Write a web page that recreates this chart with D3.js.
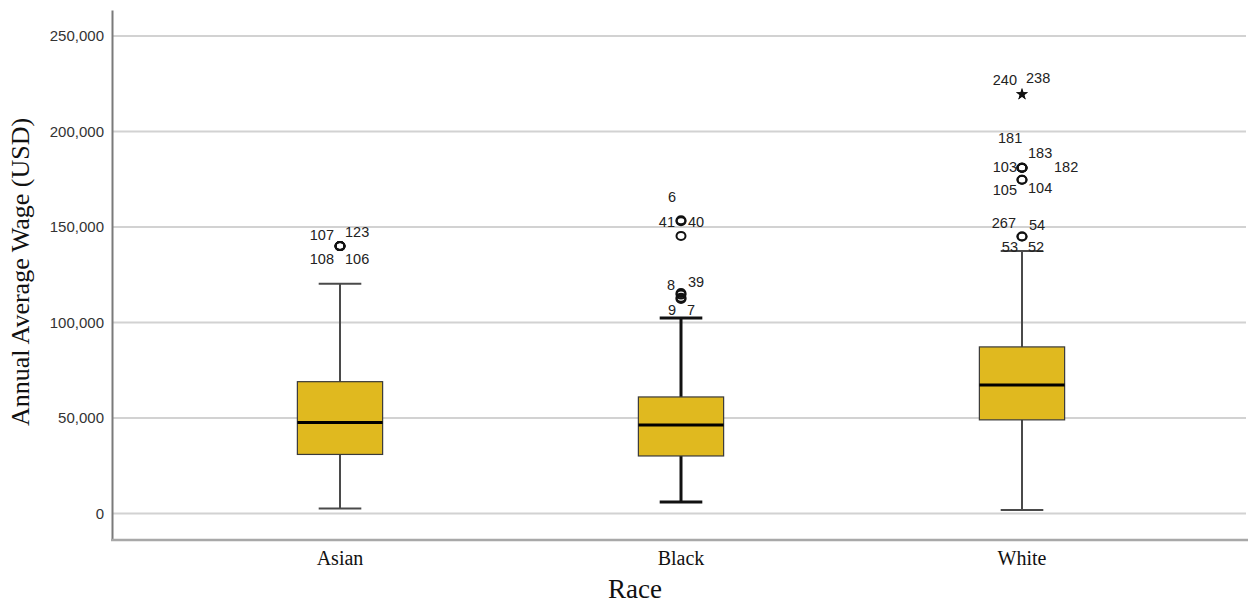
<!DOCTYPE html>
<html>
<head>
<meta charset="utf-8">
<script src="https://cdn.jsdelivr.net/npm/d3@7"></script>
<style>
  html, body { margin: 0; padding: 0; background: #fff; }
  svg { display: block; }
</style>
</head>
<body>
<svg id="chart" width="1248" height="603"></svg>
<script>
// ---------------- DATA ----------------
const categories = ["Asian", "Black", "White"];
const whiskerLow  = [2600, 6000, 1800];
const q1Values    = [30900, 30100, 49000];
const medians     = [47600, 46300, 67300];
const q3Values    = [69000, 61000, 87200];
const whiskerHigh = [120300, 102400, 137400];
const yTicks = [0, 50000, 100000, 150000, 200000, 250000];

// outlier cases: group, value, case id, marker
const outlierRace  = ["Asian","Asian","Asian","Asian",
                      "Black","Black","Black","Black","Black","Black","Black",
                      "White","White","White","White","White","White","White","White","White","White","White","White"];
const outlierValue = [140000,140000,140000,140000,
                      153500,153000,145300,115400,114600,113000,112300,
                      220000,220000,181000,181000,181000,181000,174700,174700,145000,145000,137400,137400];
const outlierId    = ["107","123","108","106",
                      "6","41","40","8","39","9","7",
                      "240","238","181","183","103","182","105","104","267","54","53","52"];
const outlierMark  = ["circle","circle","circle","circle",
                      "circle","circle","circle","circle","circle","circle","circle",
                      "star","star","circle","circle","circle","circle","circle","circle","circle","circle","none","none"];

// label layout (offsets from marker, px) -- presentation only
const labelLayout = {
  "107":[-6,-6,"end"], "123":[5,-9,"start"], "108":[-6,18,"end"], "106":[5,18,"start"],
  "6":[-13,-18,"start"], "41":[-6,6,"end"], "40":[7,-9,"start"], "8":[-6,-3,"end"],
  "39":[7,-8,"start"], "9":[-5,17,"end"], "7":[6,16,"start"],
  "240":[-5,-8,"end"], "238":[4,-10,"start"], "181":[-24,-25,"start"], "183":[6,-10,"start"],
  "103":[-5,4,"end"], "182":[32,4,"start"], "105":[-5,15,"end"], "104":[6,13,"start"],
  "267":[-6,-9,"end"], "54":[7,-7,"start"], "53":[-4,1,"end"], "52":[6,1,"start"]
};
const whiskerStyle = {
  "Asian": {stroke:"#4a4a4a", width:2},
  "Black": {stroke:"#111", width:3},
  "White": {stroke:"#4a4a4a", width:2}
};

// ---------------- LAYOUT ----------------
const svg = d3.select("#chart");
const axisX = 112, plotTop = 10, plotBottom = 540, plotRight = 1246;

const y = d3.scaleLinear().domain([-13900, 263600]).range([plotBottom, plotTop]);
const x = d3.scaleBand().domain(categories).range([169.5, 1192.5]).padding(0);
const boxW = x.bandwidth() * 0.25;
const capW = boxW * 0.5;
const cx = c => x(c) + x.bandwidth() / 2;

// gridlines
svg.append("g").selectAll("line").data(yTicks).join("line")
  .attr("x1", axisX + 1).attr("x2", plotRight)
  .attr("y1", d => y(d)).attr("y2", d => y(d))
  .attr("stroke", "#d2d2d2").attr("stroke-width", 2);

// y axis
const yAxis = svg.append("g").attr("transform", `translate(${axisX},0)`)
  .call(d3.axisLeft(y).tickValues(yTicks).tickFormat(d3.format(",")).tickSize(0).tickPadding(8));
yAxis.select(".domain").attr("stroke", "#7a7a7a").attr("stroke-width", 2);
yAxis.selectAll("text").attr("font-family", "Liberation Sans, Arial, sans-serif")
  .attr("font-size", 15).attr("fill", "#333");

// x axis
const xAxis = svg.append("g").attr("transform", `translate(0,${plotBottom})`)
  .call(d3.axisBottom(x).tickSize(0).tickPadding(11));
xAxis.select(".domain").remove();
xAxis.selectAll("text").attr("font-family", "Liberation Serif, Times New Roman, serif")
  .attr("font-size", 20).attr("fill", "#111");
svg.append("line").attr("x1", axisX - 1).attr("x2", 1248)
  .attr("y1", plotBottom).attr("y2", plotBottom)
  .attr("stroke", "#a8a8a8").attr("stroke-width", 2.5);

// boxes
categories.forEach((c, i) => {
  const g = svg.append("g");
  const st = whiskerStyle[c];
  const xc = cx(c);
  g.append("line").attr("x1", xc).attr("x2", xc).attr("y1", y(q3Values[i])).attr("y2", y(whiskerHigh[i]))
    .attr("stroke", st.stroke).attr("stroke-width", st.width);
  g.append("line").attr("x1", xc).attr("x2", xc).attr("y1", y(q1Values[i])).attr("y2", y(whiskerLow[i]))
    .attr("stroke", st.stroke).attr("stroke-width", st.width);
  [whiskerHigh[i], whiskerLow[i]].forEach(v => {
    g.append("line").attr("x1", xc - capW / 2).attr("x2", xc + capW / 2)
      .attr("y1", y(v)).attr("y2", y(v))
      .attr("stroke", st.stroke).attr("stroke-width", st.width);
  });
  g.append("rect").attr("x", xc - boxW / 2).attr("width", boxW)
    .attr("y", y(q3Values[i])).attr("height", y(q1Values[i]) - y(q3Values[i]))
    .attr("fill", "#e0b91f").attr("stroke", "#3a3a3a").attr("stroke-width", 1.2);
  g.append("line").attr("x1", xc - boxW / 2).attr("x2", xc + boxW / 2)
    .attr("y1", y(medians[i])).attr("y2", y(medians[i]))
    .attr("stroke", "#000").attr("stroke-width", 3);
});

// outliers
const outliers = outlierId.map((id, i) => ({
  race: outlierRace[i], value: outlierValue[i], id, mark: outlierMark[i]
}));
const og = svg.append("g");
outliers.forEach(o => {
  const px = cx(o.race), py = y(o.value);
  if (o.mark === "circle") {
    og.append("ellipse").attr("cx", px).attr("cy", py).attr("rx", 4.5).attr("ry", 4)
      .attr("fill", "none").attr("stroke", "#111").attr("stroke-width", 2);
  } else if (o.mark === "star") {
    og.append("path").attr("d", d3.symbol(d3.symbolStar, 45)())
      .attr("transform", `translate(${px},${py + 1})`).attr("fill", "#111");
  }
});
outliers.forEach(o => {
  const px = cx(o.race), py = y(o.value);
  const L = labelLayout[o.id];
  og.append("text").attr("x", px + L[0]).attr("y", py + L[1])
    .attr("text-anchor", L[2])
    .attr("font-family", "Liberation Sans, Arial, sans-serif")
    .attr("font-size", 14.5).attr("fill", "#222").text(o.id);
});

// axis titles
svg.append("text").attr("transform", `translate(29,272) rotate(-90)`)
  .attr("text-anchor", "middle")
  .attr("font-family", "Liberation Serif, Times New Roman, serif")
  .attr("font-size", 26).attr("fill", "#111").text("Annual Average Wage (USD)");
svg.append("text").attr("x", 635).attr("y", 598).attr("text-anchor", "middle")
  .attr("font-family", "Liberation Serif, Times New Roman, serif")
  .attr("font-size", 27).attr("fill", "#111").text("Race");
</script>
</body>
</html>
